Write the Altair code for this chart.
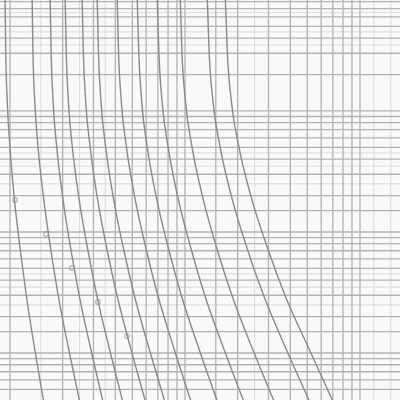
import altair as alt
import pandas as pd

# ---- grid (log-log chart paper) ----
x_major = [0.1, 0.2, 0.3, 0.4, 0.5, 0.6, 0.7, 0.8, 0.9,
           1, 1.5, 2, 3, 4, 5, 6, 7, 8, 9, 10]
x_minor = [0.15, 0.25, 0.35, 2.5, 12, 15]
y_major = [0.5, 0.6, 0.7, 0.8, 0.9,
           1, 1.5, 2, 3, 4, 5, 6, 7, 8, 9,
           10, 15, 20, 30, 40, 50, 60, 70, 80, 90,
           100, 200, 300, 400, 500, 600, 700, 800]
y_minor = [2.5, 3.5, 4.5, 25, 35, 45, 350, 450, 650]

# ---- curves: x read at each y level ----
y_levels = [1000, 300, 120, 50, 20, 7, 3, 1, 0.35]
c01 = [0.0936, 0.0946, 0.0965, 0.1000, 0.1055, 0.1147, 0.1239, 0.1397, 0.158]
c02 = [0.1336, 0.1353, 0.1386, 0.1447, 0.155, 0.1715, 0.1886, 0.2188, 0.2548]
c03 = [0.1693, 0.1719, 0.1763, 0.1851, 0.1995, 0.2235, 0.2485, 0.293, 0.3467]
c04 = [0.2062, 0.2097, 0.2156, 0.2273, 0.2466, 0.2791, 0.3133, 0.3753, 0.4505]
c05 = [0.2578, 0.2626, 0.2707, 0.2873, 0.3141, 0.3597, 0.4087, 0.4979, 0.6098]
c06 = [0.3141, 0.3204, 0.3311, 0.3524, 0.3878, 0.4481, 0.5132, 0.6343, 0.787]
c07 = [0.4087, 0.4174, 0.4325, 0.4631, 0.5145, 0.6026, 0.6994, 0.8814, 1.115]
c08 = [0.5317, 0.5445, 0.5656, 0.6091, 0.6829, 0.8111, 0.9526, 1.225, 1.580]
c09 = [0.6918, 0.7094, 0.7397, 0.8017, 0.906, 1.091, 1.297, 1.702, 2.243]
c10 = [0.9363, 0.9613, 1.0066, 1.098, 1.256, 1.535, 1.854, 2.485, 3.355]
c11 = [1.336, 1.375, 1.445, 1.589, 1.839, 2.288, 2.813, 3.873, 5.366]
c12 = [1.693, 1.747, 1.841, 2.035, 2.377, 3.0, 3.728, 5.243, 7.3]
curves = [c01, c02, c03, c04, c05, c06, c07, c08, c09, c10, c11, c12]

# ---- marked points ----
pt_x = [0.1068, 0.1606, 0.2261, 0.3184, 0.4662]
pt_y = [18.4, 9.63, 5.04, 2.64, 1.38]

rows = []
for i, c in enumerate(curves):
    for xv, yv in zip(c, y_levels):
        rows.append({"curve": i + 1, "x": xv, "y": yv})
curve_df = pd.DataFrame(rows)
pts_df = pd.DataFrame({"x": pt_x, "y": pt_y})

xs = alt.Scale(type="log", domain=[0.0877, 16.93], nice=False)
ys = alt.Scale(type="log", domain=[0.409, 826], nice=False)

vmin = alt.Chart(pd.DataFrame({"x": x_minor})).mark_rule(
    color="#dadada", strokeWidth=1).encode(
    x=alt.X("x:Q", scale=xs, axis=None))
vmaj = alt.Chart(pd.DataFrame({"x": x_major})).mark_rule(
    color="#b2b2b2", strokeWidth=1.3).encode(
    x=alt.X("x:Q", scale=xs, axis=None))
hmin = alt.Chart(pd.DataFrame({"y": y_minor})).mark_rule(
    color="#dadada", strokeWidth=1).encode(
    y=alt.Y("y:Q", scale=ys, axis=None))
hmaj = alt.Chart(pd.DataFrame({"y": y_major})).mark_rule(
    color="#b2b2b2", strokeWidth=1.3).encode(
    y=alt.Y("y:Q", scale=ys, axis=None))

lines = alt.Chart(curve_df).mark_line(
    color="#8a8a8a", strokeWidth=1.4, clip=True, interpolate="monotone").encode(
    x=alt.X("x:Q", scale=xs, axis=None),
    y=alt.Y("y:Q", scale=ys, axis=None),
    detail="curve:N")

pts = alt.Chart(pts_df).mark_point(
    shape="circle", size=22, color="#909090", strokeWidth=1.1, filled=False).encode(
    x=alt.X("x:Q", scale=xs, axis=None),
    y=alt.Y("y:Q", scale=ys, axis=None))

chart = alt.layer(vmin, hmin, vmaj, hmaj, lines, pts).properties(
    width=400, height=400,
    autosize=alt.AutoSizeParams(type="none"),
    padding=0,
    background="#f9f9f9",
).configure_view(strokeWidth=0)

chart.save("out.html", embed_options={"renderer": "svg", "actions": False})
